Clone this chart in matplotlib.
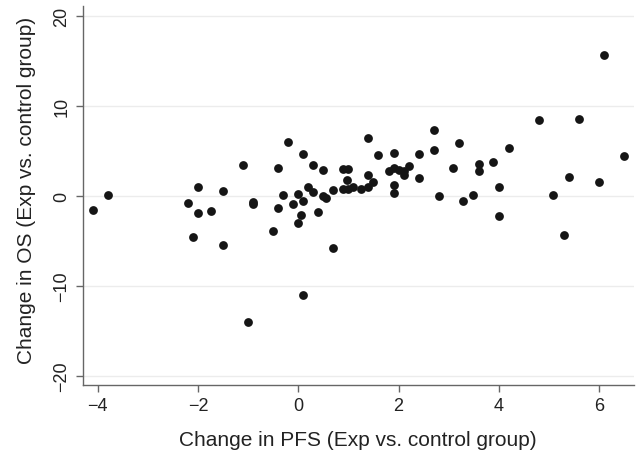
import numpy as np
import matplotlib.pyplot as plt

plt.rcParams['font.family'] = ['Liberation Sans', 'DejaVu Sans']

# change in PFS vs change in OS
pfs = [-4.10, -3.79, -2.20, -2.10, -2.00, -2.00, -1.75, -1.50, -1.50, -1.10,
       -1.00, -0.90, -0.90, -0.50, -0.40, -0.40, -0.30, -0.21, -0.10, 0.00,
       0.00, 0.06, 0.10, 0.10, 0.10, 0.20, 0.30, 0.30, 0.40, 0.50,
       0.50, 0.55, 0.69, 0.70, 0.90, 1.00, 0.98, 0.90, 1.00, 1.10,
       1.25, 1.40, 1.40, 1.40, 1.50, 1.60, 1.80, 1.90, 1.90, 1.90,
       1.90, 2.00, 2.10, 2.10, 2.20, 2.40, 2.40, 2.70, 2.70, 2.80,
       3.09, 3.20, 3.29, 3.49, 3.60, 3.60, 3.89, 4.00, 4.00, 4.20,
       4.80, 5.09, 5.29, 5.40, 5.60, 5.99, 6.09, 6.49]
os_ = [-1.56, 0.04, -0.78, -4.55, 1.00, -1.92, -1.70, 0.52, -5.48, 3.40,
       -14.0, -0.74, -0.96, -3.96, 3.04, -1.37, 0.04, 6.00, -0.96, 0.15,
       -3.00, -2.15, 4.60, -0.55, -11.0, 1.00, 3.40, 0.41, -1.85, 2.80,
       -0.07, -0.30, 0.63, -5.85, 3.00, 3.00, 1.74, 0.78, 0.78, 1.00,
       0.78, 1.00, 2.26, 6.44, 1.52, 4.52, 2.74, 3.04, 4.74, 1.19,
       0.33, 2.89, 2.74, 2.26, 3.30, 4.63, 1.93, 7.30, 5.08, -0.03,
       3.04, 5.86, -0.55, 0.04, 3.52, 2.71, 3.71, 1.00, -2.26, 5.30,
       8.38, 0.04, -4.37, 2.11, 8.52, 1.52, 15.63, 4.41]

xticks = [-4, -2, 0, 2, 4, 6]
yticks = [-20, -10, 0, 10, 20]

fig = plt.figure(figsize=(6.41, 4.52), dpi=100)
ax = fig.add_axes([0.129, 0.1467, 0.8596, 0.8371])

ax.scatter(pfs, os_, s=40, color='#151515', linewidths=0, zorder=3)

ax.set_xlim(-4.30, 6.69)
ax.set_ylim(-21.0, 21.04)
ax.set_xticks(xticks)
ax.set_yticks(yticks)
ax.set_xticklabels([str(t).replace('-', '\u2212') for t in xticks])
ax.set_yticklabels([str(t).replace('-', '\u2212') for t in yticks],
                   rotation=90, va='center')

ax.grid(axis='y', color='#ececec', linewidth=1.0)
ax.set_axisbelow(True)
for s in ['top', 'right']:
    ax.spines[s].set_visible(False)
for s in ['left', 'bottom']:
    ax.spines[s].set_color('#666666')
    ax.spines[s].set_linewidth(1.0)
ax.tick_params(length=5, width=1, color='#666666', labelsize=13,
               labelcolor='#222222', pad=4)

ax.set_xlabel('Change in PFS (Exp vs. control group)', fontsize=15,
              color='#222222', va='center')
ax.set_ylabel('Change in OS (Exp vs. control group)', fontsize=15,
              color='#222222', va='center')
ax.xaxis.set_label_coords(0.5, -0.146)
ax.yaxis.set_label_coords(-0.102, 0.515)

fig.savefig('out.png', dpi=100)
